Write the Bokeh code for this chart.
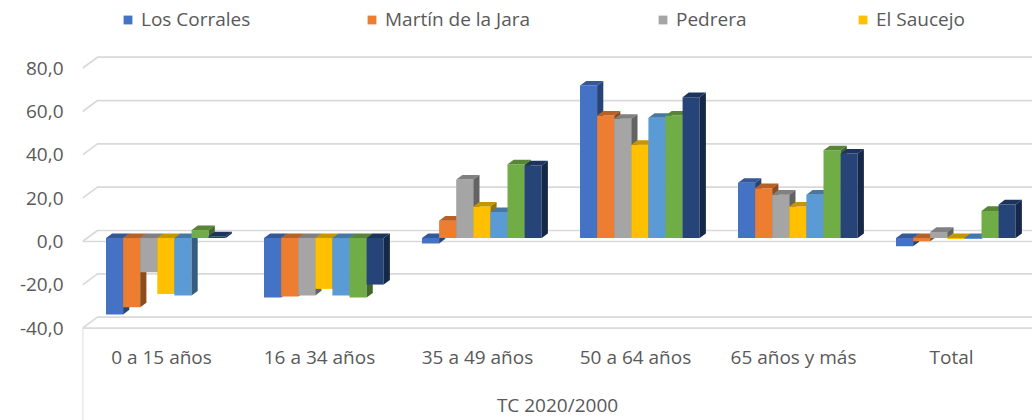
from bokeh.plotting import figure
from bokeh.models import Range1d, FixedTicker, Legend, LegendItem
from bokeh.core.properties import value
from bokeh.embed import file_html
from bokeh.resources import INLINE

# ---------------- data ----------------
categories = ["0 a 15 años", "16 a 34 años", "35 a 49 años", "50 a 64 años", "65 años y más", "Total"]
series_names = ["Los Corrales", "Martín de la Jara", "Pedrera", "El Saucejo", "Serie 5", "Serie 6", "Serie 7"]
los_corrales = [-35.3, -27.5, -2.5, 70.4, 25.5, -3.8]
martin_de_la_jara = [-32.0, -27.0, 8.0, 56.5, 23.0, -1.5]
pedrera = [-15.8, -26.5, 27.0, 55.0, 20.0, 2.8]
el_saucejo = [-25.8, -23.5, 14.5, 43.0, 14.5, -0.5]
serie_5 = [-26.6, -26.5, 12.0, 55.5, 20.0, -0.5]
serie_6 = [3.6, -27.5, 34.0, 56.5, 40.5, 12.5]
serie_7 = [0.8, -21.5, 33.5, 65.0, 39.0, 15.5]
series_values = [los_corrales, martin_de_la_jara, pedrera, el_saucejo, serie_5, serie_6, serie_7]
colors = ["#4472C4", "#ED7D31", "#A5A5A5", "#FFC000", "#5B9BD5", "#70AD47", "#264478"]
y_ticks = [-40, -20, 0, 20, 40, 60, 80]
y_tick_labels = ["-40,0", "-20,0", "0,0", "20,0", "40,0", "60,0", "80,0"]
axis_title = "TC 2020/2000"

# ---------------- geometry (style) ----------------
W, H = 1032, 420
LEFT = 82
GROUP_PX = 158.0
Y_PX = 2.166            # pixels per data unit
Y0_PX = 241.0           # pixel row of the value 0 (front plane)
Y_MAX = Y0_PX / Y_PX
Y_MIN = -(H - Y0_PX) / Y_PX
X_MAX = (W - LEFT) / GROUP_PX
AXIS_MIN = y_ticks[0]


def dx(px):
    return px / GROUP_PX


def dy(px):
    return px / Y_PX


WALL_DX, WALL_DY = dx(15), dy(11)
BAR_SHIFT_Y = dy(3.5)
BAR_LEFT0 = -55.5
BAR_W_PX = 17.1
SIDE_DX, SIDE_DY = dx(6.2), dy(4.6)
LABEL_Y = AXIS_MIN - dy(28.5)
TITLE_Y = AXIS_MIN - dy(77)
LEGEND_X = [40, 284, 575, 775]   # screen offsets of the legend entries from the plot's left edge
GRID = "#D9D9D9"
TXT = "#595959"
FONT = "Open Sans"
FS = "19px"


def shade(hexcol, f):
    r, g, b = int(hexcol[1:3], 16), int(hexcol[3:5], 16), int(hexcol[5:7], 16)
    return "#%02x%02x%02x" % (int(r * f), int(g * f), int(b * f))


p = figure(width=W, height=H, x_range=Range1d(0, X_MAX), y_range=Range1d(Y_MIN, Y_MAX),
           output_backend="svg", toolbar_location=None,
           min_border_left=LEFT, min_border_right=0, min_border_top=0, min_border_bottom=0)
p.outline_line_color = None
p.xgrid.visible = False
p.ygrid.visible = False
p.xaxis.visible = False

# back-wall gridlines with slanted side-wall part
gx, gy = [], []
for v in y_ticks:
    gx.append([0, WALL_DX, X_MAX])
    gy.append([v, v + WALL_DY, v + WALL_DY])
p.multi_line(gx, gy, line_color=GRID, line_width=1.7)
# front lines at zero and at the floor, category box left edge
p.multi_line([[0, X_MAX], [0, X_MAX], [0, 0]],
             [[0, 0], [AXIS_MIN, AXIS_MIN], [AXIS_MIN, Y_MIN]],
             line_color=GRID, line_width=1.7)

# 3D bars
front_renderers = []
for si, vals in enumerate(series_values):
    col = colors[si]
    lefts, rights, bottoms, tops = [], [], [], []
    txs, tys, sxs, sys_ = [], [], [], []
    for gi, v in enumerate(vals):
        c = gi + 0.5
        l = c + dx(BAR_LEFT0 + si * BAR_W_PX)
        r = l + dx(BAR_W_PX)
        y0 = min(0.0, v) + BAR_SHIFT_Y
        y1 = max(0.0, v) + BAR_SHIFT_Y
        lefts.append(l); rights.append(r); bottoms.append(y0); tops.append(y1)
        txs.append([l, r, r + SIDE_DX, l + SIDE_DX])
        tys.append([y1, y1, y1 + SIDE_DY, y1 + SIDE_DY])
        sxs.append([r, r + SIDE_DX, r + SIDE_DX, r])
        sys_.append([y0, y0 + SIDE_DY, y1 + SIDE_DY, y1])
    fr = p.quad(left=lefts, right=rights, bottom=bottoms, top=tops,
                fill_color=col, line_color=None)
    p.patches(txs, tys, fill_color=shade(col, 0.78), line_color=None)
    p.patches(sxs, sys_, fill_color=shade(col, 0.6), line_color=None)
    front_renderers.append(fr)

# category labels and axis title
p.text(x=[i + 0.5 for i in range(len(categories))], y=[LABEL_Y] * len(categories), text=categories,
       text_align="center", text_baseline="middle", text_font=value(FONT),
       text_font_size=FS, text_color=TXT)
p.text(x=[X_MAX / 2], y=[TITLE_Y], text=[axis_title],
       text_align="center", text_baseline="middle", text_font=value(FONT),
       text_font_size=FS, text_color=TXT)

ya = p.yaxis[0]
ya.ticker = FixedTicker(ticks=y_ticks)
ya.major_label_overrides = {v: s for v, s in zip(y_ticks, y_tick_labels)}
ya.axis_line_color = None
ya.major_tick_line_color = None
ya.minor_tick_line_color = None
ya.major_tick_out = 0
ya.major_tick_in = 0
ya.major_label_standoff = 19
ya.major_label_text_font = FONT
ya.major_label_text_font_size = FS
ya.major_label_text_color = TXT

# legend: the four visible entries, each placed on its own
for i, lx in enumerate(LEGEND_X):
    lg = Legend(items=[LegendItem(label=series_names[i], renderers=[front_renderers[i]])],
                orientation="horizontal", location=(lx, H - 32))
    lg.glyph_width = 11
    lg.glyph_height = 11
    lg.label_standoff = 8
    lg.padding = 0
    lg.margin = 0
    lg.border_line_color = None
    lg.background_fill_alpha = 0
    lg.label_text_font = FONT
    lg.label_text_font_size = FS
    lg.label_text_color = TXT
    p.add_layout(lg)

open("out.html", "w").write(file_html(p, INLINE))
